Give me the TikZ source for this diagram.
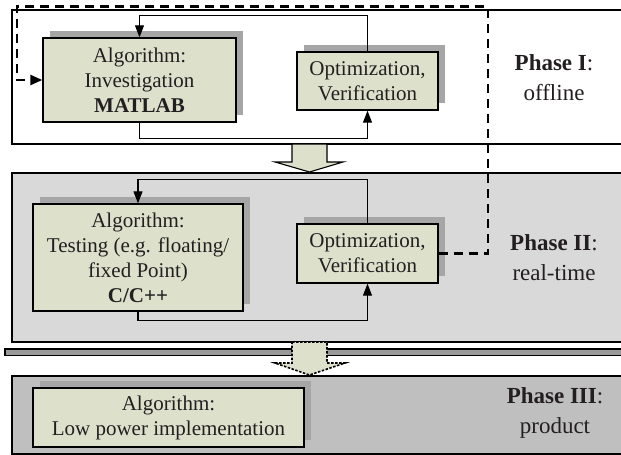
\documentclass[tikz,border=0pt]{standalone}
\usepackage{fontspec}
\setmainfont{Liberation Serif}
\usetikzlibrary{arrows.meta,shadows}
\definecolor{boxfill}{RGB}{221,225,204}
\definecolor{shadowgray}{RGB}{166,166,166}
\definecolor{phasetwo}{RGB}{217,217,217}
\definecolor{phasethree}{RGB}{191,191,191}
\definecolor{bargray}{RGB}{153,153,153}
\definecolor{textc}{RGB}{35,31,32}
\begin{document}
\begin{tikzpicture}[x=1pt,y=-1pt,
  phase/.style={draw=black,line width=1.2pt},
  algbox/.style={draw=black,line width=1.4pt,fill=boxfill,align=center,inner sep=0pt,
    text=textc,font=\fontsize{21}{25}\selectfont,
    general shadow={fill=shadowgray,shadow xshift=7pt,shadow yshift=7pt}},
  label/.style={align=center,text=textc,font=\fontsize{23}{30}\selectfont},
  loop/.style={draw=black,line width=1.1pt,-{Triangle[length=12pt,width=9pt]}},
  dashline/.style={draw=black,line width=2.4pt,dash pattern=on 9pt off 6pt,-{Triangle[length=12pt,width=10pt]}},
  blockarrow/.style={fill=boxfill,draw=black,line width=1.1pt}]
\useasboundingbox (0,0) rectangle (621,455);
% phase areas
\path[phase,fill=white] (12,10) rectangle (650,144);
\path[phase,fill=phasetwo] (12,173) rectangle (650,342);
\path[phase,fill=bargray] (5,349) rectangle (650,355.5);
\path[phase,fill=phasethree] (12,376) rectangle (650,454);
% block arrows
\path[blockarrow] (292,144) -- (327,144) -- (327,162) -- (343,162) -- (309.5,172) -- (275,162) -- (292,162) -- cycle;
\path[blockarrow,line width=1.6pt,dash pattern=on 2.5pt off 1.5pt] (292,342) -- (327,342) -- (327,363) -- (345,363) -- (309.5,375) -- (275,363) -- (292,363) -- cycle;
% boxes
\node[algbox,minimum width=193pt,minimum height=84pt] (b1) at (139.5,80) {Algorithm:\\Investigation\\\textbf{MATLAB}};
\node[algbox,minimum width=141pt,minimum height=58pt] (b2) at (367.5,81) {Optimization,\\Verification};
\node[algbox,minimum width=210pt,minimum height=107pt] (c1) at (138,257.5) {Algorithm:\\Testing (e.g. floating/\\fixed Point)\\\textbf{C/C++}};
\node[algbox,minimum width=141pt,minimum height=59pt] (c2) at (367.5,253.5) {Optimization,\\Verification};
\node[algbox,minimum width=271pt,minimum height=59pt] (d1) at (168.5,417.5) {Algorithm:\\Low power implementation};
% labels
\node[label] (l1) at (554,78) {\textbf{Phase I}:\\offline};
\node[label] (l2) at (554,258) {\textbf{Phase II}:\\real-time};
\node[label] (l3) at (555,413) {\textbf{Phase III}:\\product};
% loops
\draw[loop] (b1.south) -- ++(0,16) -| (b2.south);
\draw[loop] (b2.north) -- ++(0,-36) -| (b1.north);
\draw[loop] (c1.south) -- ++(0,9) -| (c2.south);
\draw[loop] (c2.north) -- ++(0,-44) -| (c1.north);
% dashed feedback
\coordinate (dtop) at (488,6.5);
\coordinate (dleft) at (17,6.5);
\draw[dashline] (c2.east) -| (dtop) -- (dleft) |- (b1.west);
\end{tikzpicture}
\end{document}
